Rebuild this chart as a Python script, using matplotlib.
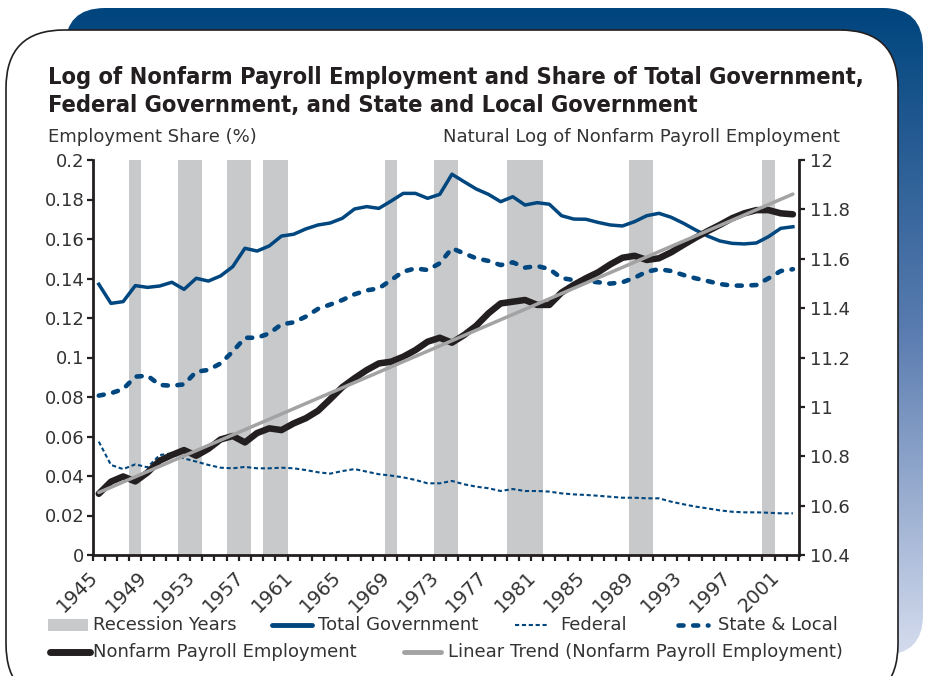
"""Log of nonfarm payroll employment vs. government employment shares."""

import matplotlib
matplotlib.use("Agg")
import matplotlib.pyplot as plt
import numpy as np
from matplotlib import font_manager
from matplotlib.colors import LinearSegmentedColormap
from matplotlib.font_manager import FontProperties
from matplotlib.lines import Line2D
from matplotlib.patches import FancyBboxPatch, Rectangle
from matplotlib.transforms import ScaledTranslation

# ---- data ----
years = list(range(1945, 2003))

total_gov = [
    0.1371, 0.1274, 0.1283, 0.1364, 0.1355, 0.1362, 0.1381, 0.1345, 0.1401, 0.1387,
    0.1413, 0.1460, 0.1553, 0.1539, 0.1565, 0.1615, 0.1624, 0.1651, 0.1671, 0.1681,
    0.1705, 0.1752, 0.1764, 0.1755, 0.1792, 0.1831, 0.1831, 0.1806, 0.1826, 0.1928,
    0.1890, 0.1853, 0.1826, 0.1789, 0.1814, 0.1772, 0.1784, 0.1776, 0.1718, 0.1701,
    0.1700, 0.1684, 0.1671, 0.1666, 0.1688, 0.1718, 0.1730, 0.1710, 0.1680, 0.1646,
    0.1615, 0.1590, 0.1578, 0.1575, 0.1580, 0.1612, 0.1654, 0.1662,
]
federal = [
    0.0574, 0.0456, 0.0435, 0.0459, 0.0444, 0.0506, 0.0515, 0.0489, 0.0473, 0.0456,
    0.0442, 0.0439, 0.0446, 0.0439, 0.0439, 0.0442, 0.0439, 0.0430, 0.0419, 0.0412,
    0.0425, 0.0435, 0.0422, 0.0409, 0.0402, 0.0393, 0.0380, 0.0363, 0.0363, 0.0375,
    0.0358, 0.0346, 0.0338, 0.0324, 0.0334, 0.0324, 0.0324, 0.0321, 0.0312, 0.0307,
    0.0304, 0.0300, 0.0295, 0.0290, 0.0290, 0.0287, 0.0287, 0.0270, 0.0257, 0.0245,
    0.0236, 0.0226, 0.0219, 0.0216, 0.0216, 0.0214, 0.0211, 0.0211,
]
state_local = [
    0.0807, 0.0819, 0.0840, 0.0903, 0.0908, 0.0861, 0.0857, 0.0864, 0.0928, 0.0937,
    0.0970, 0.1030, 0.1100, 0.1100, 0.1122, 0.1168, 0.1178, 0.1207, 0.1246, 0.1268,
    0.1291, 0.1320, 0.1340, 0.1350, 0.1392, 0.1435, 0.1451, 0.1443, 0.1477, 0.1553,
    0.1527, 0.1502, 0.1489, 0.1468, 0.1482, 0.1455, 0.1463, 0.1448, 0.1402, 0.1392,
    0.1387, 0.1381, 0.1374, 0.1381, 0.1404, 0.1435, 0.1447, 0.1438, 0.1418, 0.1401,
    0.1387, 0.1372, 0.1364, 0.1364, 0.1367, 0.1401, 0.1438, 0.1447,
]
log_nonfarm = [
    10.648, 10.697, 10.718, 10.698, 10.734, 10.782, 10.805, 10.825, 10.802, 10.830,
    10.868, 10.882, 10.856, 10.894, 10.913, 10.906, 10.933, 10.954, 10.984, 11.031,
    11.080, 11.116, 11.149, 11.176, 11.183, 11.203, 11.230, 11.264, 11.280, 11.260,
    11.291, 11.329, 11.379, 11.419, 11.426, 11.433, 11.413, 11.413, 11.463, 11.494,
    11.521, 11.545, 11.577, 11.604, 11.612, 11.595, 11.602, 11.626, 11.656, 11.685,
    11.712, 11.737, 11.764, 11.784, 11.797, 11.797, 11.784, 11.780,
]
recession_years = [1948, 1952, 1953, 1956, 1957, 1959, 1960, 1969, 1973, 1974,
                   1979, 1980, 1981, 1989, 1990, 2000]
label_years = list(range(1945, 2002, 4))

left_ticks = [0, 0.02, 0.04, 0.06, 0.08, 0.1, 0.12, 0.14, 0.16, 0.18, 0.2]
left_labels = ["0", "0.02", "0.04", "0.06", "0.08", "0.1", "0.12", "0.14", "0.16", "0.18", "0.2"]
right_ticks = [10.4, 10.6, 10.8, 11.0, 11.2, 11.4, 11.6, 11.8, 12.0]
right_labels = ["10.4", "10.6", "10.8", "11", "11.2", "11.4", "11.6", "11.8", "12"]

# ---- styles ----
BLUE = "#00467f"
BLACK = "#231f20"
GRAY = "#a3a3a3"
REC = "#c8c9cb"
TXT_COLOR = "#333333"
W, H = 930, 676
TXT = 13


def pick_title_font():
    # prefer a mildly condensed bold face; the reference title is narrow but not squashed
    entries = font_manager.fontManager.ttflist
    files = {f.fname.split("/")[-1]: f.fname for f in entries}
    for name in ("DejaVuSansCondensed-Bold.ttf", "LiberationSansNarrow-Bold.ttf"):
        if name in files:
            return FontProperties(fname=files[name])
    for fn, path in files.items():
        if ("Condensed" in fn or "Narrow" in fn) and "Bold" in fn and "Italic" not in fn \
                and "Oblique" not in fn and "Semi" not in fn and "Extra" not in fn:
            return FontProperties(fname=path)
    return FontProperties(family="DejaVu Sans", weight="bold")


plt.rcParams["font.family"] = ["DejaVu Sans"]
title_fp = pick_title_font()


def px(x, y):
    return x / W, 1 - y / H


fig = plt.figure(figsize=(W / 100, H / 100), dpi=100)

# decorative frame
bg = fig.add_axes([0, 0, 1, 1], zorder=-1)
blue_box = FancyBboxPatch((65, 8), 858, 647, boxstyle="round,pad=0,rounding_size=40",
                          fc="none", ec="none")
bg.add_patch(blue_box)
grad = np.linspace(0, 1, 256).reshape(-1, 1)
cmap = LinearSegmentedColormap.from_list("frame", ["#00457e", "#5a7cb0", "#d5dcee"])
im = bg.imshow(grad, extent=(65, 923, 655, 8), cmap=cmap, aspect="auto")
im.set_clip_path(blue_box)
bg.add_patch(FancyBboxPatch((6, 30), 892, 672, boxstyle="round,pad=0,rounding_size=58",
                            fc="white", ec=BLACK, lw=1.2))
bg.set_xlim(0, W)
bg.set_ylim(H, 0)
bg.axis("off")

# main axes
ax = fig.add_axes([92.7 / W, 1 - 555 / H, (799 - 92.7) / W, (555 - 160) / H])
ax.patch.set_visible(False)
ax.bar(recession_years, [0.2] * len(recession_years), width=1.0, color=REC, lw=0, zorder=1)
ax.plot(years, total_gov, color=BLUE, lw=2.5, solid_joinstyle="round", zorder=3)
ax.plot(years, federal, color=BLUE, lw=1.5, dashes=(2.0, 1.3), zorder=3)
ax.plot(years, state_local, color=BLUE, lw=3.3, dashes=(1.1, 2.1),
        dash_capstyle="round", zorder=3)
ax.set_xlim(1944.5, 2002.5)
ax.set_ylim(0, 0.2)
ax.set_yticks(left_ticks)
ax.set_yticklabels(left_labels)

ax2 = ax.twinx()
trend = np.poly1d(np.polyfit(years, log_nonfarm, 1))
ax2.plot(years, log_nonfarm, color=BLACK, lw=4.7, solid_joinstyle="round",
         solid_capstyle="round", zorder=3)
ax2.plot([years[0], years[-1]], trend([years[0], years[-1]]), color=GRAY, lw=2.5,
         solid_capstyle="round", zorder=4)
ax2.set_ylim(10.4, 12)
ax2.set_yticks(right_ticks)
ax2.set_yticklabels(right_labels)

for a in (ax, ax2):
    a.spines["top"].set_visible(False)
    for s in ("left", "right", "bottom"):
        a.spines[s].set_linewidth(2.0)
        a.spines[s].set_color(BLACK)
ax.spines["right"].set_visible(False)
ax2.spines["left"].set_visible(False)
ax2.spines["bottom"].set_visible(False)

ax.set_xticks(np.arange(1944.5, 2003, 1.0))
ax.set_xticklabels([])
ax.set_xticks(label_years, minor=True)
ax.set_xticklabels([str(y) for y in label_years], minor=True, rotation=45,
                   ha="right", va="center", rotation_mode="anchor")
ax.tick_params(axis="x", which="major", length=4, width=1.6, direction="out", color=BLACK)
ax.tick_params(axis="x", which="minor", length=0, pad=14, labelsize=14, labelcolor=TXT_COLOR)
ax.tick_params(axis="y", length=4, width=1.6, direction="out", pad=2,
               labelsize=TXT, labelcolor=TXT_COLOR, color=BLACK)
ax2.tick_params(axis="y", length=4, width=1.6, direction="out", pad=4,
                labelsize=TXT, labelcolor=TXT_COLOR, color=BLACK)
shift = ScaledTranslation(-4 / 100, 0, fig.dpi_scale_trans)
for lab in ax.get_xticklabels(minor=True):
    lab.set_transform(lab.get_transform() + shift)

# titles
t1 = fig.text(*px(48, 84), "Log of Nonfarm Payroll Employment and Share of Total Government,",
              fontproperties=title_fp, size=19, color=BLACK, va="baseline")
t2 = fig.text(*px(48, 112), "Federal Government, and State and Local Government",
              fontproperties=title_fp, size=19, color=BLACK, va="baseline")
fig.text(*px(48, 142), "Employment Share (%)", size=TXT, color=TXT_COLOR, va="baseline")
fig.text(*px(840, 142), "Natural Log of Nonfarm Payroll Employment", size=TXT,
         color=TXT_COLOR, va="baseline", ha="right")

# fit the title's first line to the reference width (48 -> 862 px), capped so that
# the two lines keep clear of each other
renderer = fig.canvas.get_renderer()
size = min(20.0, 19 * 814 / t1.get_window_extent(renderer).width)
t1.set_fontsize(size)
t2.set_fontsize(size)

# legend (drawn by hand to match the two-row layout)
fig.patches.append(Rectangle(px(48, 631), 40 / W, 12 / H, transform=fig.transFigure,
                             fc=REC, ec="none"))
legend_lines = [
    ((272, 312), 625, dict(color=BLUE, lw=3.5, solid_capstyle="round")),
    ((515, 548), 625, dict(color=BLUE, lw=1.5, dashes=(2.0, 1.3))),
    ((678, 708), 625, dict(color=BLUE, lw=3.3, dashes=(1.1, 2.1), dash_capstyle="round")),
    ((50, 90), 652, dict(color=BLACK, lw=5.0, solid_capstyle="round")),
    ((404, 441), 652, dict(color=GRAY, lw=3.5, solid_capstyle="round")),
]
for (x0, x1), y, kw in legend_lines:
    fig.add_artist(Line2D([x0 / W, x1 / W], [1 - y / H] * 2, transform=fig.transFigure, **kw))
legend_texts = [
    (93, 625, "Recession Years"), (318, 625, "Total Government"),
    (560, 625, "Federal"), (718, 625, "State & Local"),
    (93, 652, "Nonfarm Payroll Employment"),
    (448, 652, "Linear Trend (Nonfarm Payroll Employment)"),
]
for x, y, s in legend_texts:
    fig.text(*px(x, y), s, size=TXT, color=TXT_COLOR, va="center")

fig.savefig("out.png", dpi=100)
